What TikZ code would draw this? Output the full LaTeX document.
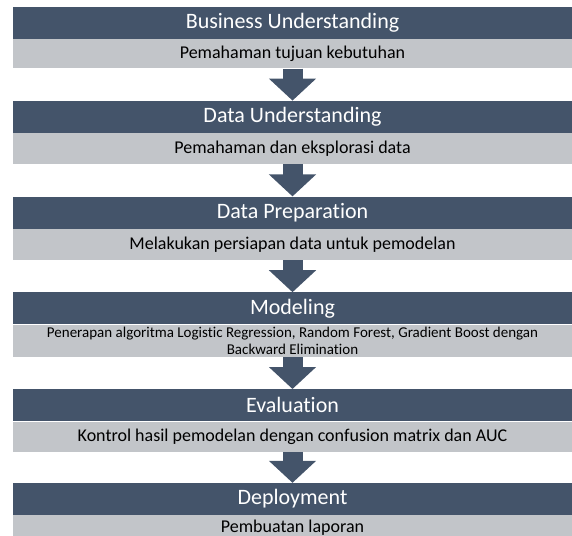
\documentclass[tikz,border=0pt]{standalone}
\usepackage{fontspec}
\setmainfont{Carlito}[Ligatures=NoCommon]
\usepackage{tikz}
\usetikzlibrary{positioning, arrows.meta}
\definecolor{slate}{HTML}{44546A}
\definecolor{lightgrey}{HTML}{C2C5C9}
\tikzstyle{phase} = [rectangle, minimum width=559pt, minimum height=32pt, inner sep=0pt, text centered, fill=slate, text=white, font=\fontsize{22}{26}\selectfont]
\tikzstyle{task} = [rectangle, minimum width=559pt, minimum height=31pt, inner sep=0pt, text centered, fill=lightgrey, text=black, font=\fontsize{18}{21}\selectfont]
\tikzstyle{flow} = [draw=slate, line width=20pt, -{Triangle[width=46pt, length=22pt]}]

\begin{document}
\begin{tikzpicture}[node distance=0pt]
\useasboundingbox (0,0) rectangle (572pt,-535pt);
\node (bu) [phase] at (292.5pt,-23pt) {Business Understanding};
\node (bud) [task, minimum height=29pt, below=of bu] {Pemahaman tujuan kebutuhan};
\node (du) [phase, below=32pt of bud] {Data Understanding};
\node (dud) [task, below=of du] {Pemahaman dan eksplorasi data};
\node (dp) [phase, below=32pt of dud] {Data Preparation};
\node (dpd) [task, below=of dp] {Melakukan persiapan data untuk pemodelan};
\node (mo) [phase, below=32pt of dpd] {Modeling};
\node (mod) [task, minimum height=32pt, align=center, font=\fontsize{15}{16.5}\selectfont, below=of mo] {Penerapan algoritma Logistic Regression, Random Forest, Gradient Boost dengan\\Backward Elimination};
\node (ev) [phase, below=32pt of mod] {Evaluation};
\node (evd) [task, minimum height=30pt, below=of ev] {Kontrol hasil pemodelan dengan confusion matrix dan AUC};
\node (de) [phase, below=31pt of evd] {Deployment};
\node (ded) [task, minimum height=24pt, below=of de] {Pembuatan laporan};
\draw [flow] (bud) -- (du);
\draw [flow] (dud) -- (dp);
\draw [flow] (dpd) -- (mo);
\draw [flow] (mod) -- (ev);
\draw [flow] (evd) -- (de);

\end{tikzpicture}
\end{document}
